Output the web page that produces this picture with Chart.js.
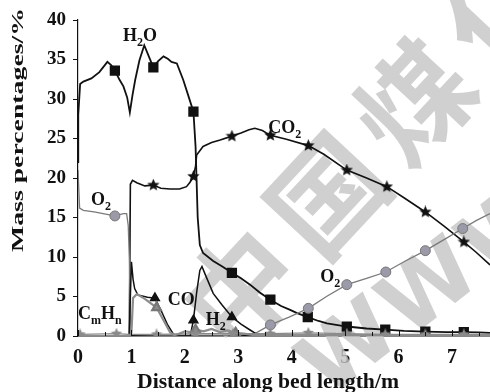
<!DOCTYPE html>
<html><head><meta charset="utf-8">
<script src="https://cdn.jsdelivr.net/npm/chart.js@4/dist/chart.umd.min.js"></script>
<style>html,body{margin:0;padding:0;background:#fff}#wrap{width:490px;height:392px;position:relative}</style>
</head><body><div id="wrap"><canvas id="c" width="490" height="392"></canvas></div>
<script>
// ---- data ----
const h2oX = [0,0.005,0.04,0.1,0.25,0.4,0.55,0.62,0.69,0.78,0.85,0.92,0.97,1.02,1.07,1.15,1.24,1.3,1.41,1.5,1.6,1.68,1.75,1.85,1.97,2.07,2.16,2.2,2.24,2.28,2.34,2.53,2.7,2.88,3.05,3.22,3.4,3.6,3.8,3.97,4.1,4.3,4.5,4.66,5.03,5.4,5.75,6.1,6.5,6.9,7.22,7.5,7.71];
const h2oY = [22,28,31.9,32.2,32.6,33.4,34.7,34.3,33.6,32.4,31.6,30.2,28.3,30.5,32.4,34.9,36.8,35.8,34.0,34.8,35.4,35.1,34.7,34.5,32.4,30.3,28.4,24,15,11.5,10.5,9.5,8.8,8.0,7.3,6.5,5.5,4.6,3.8,3.3,2.9,2.4,1.9,1.6,1.2,0.95,0.8,0.65,0.55,0.5,0.5,0.45,0.4];
const h2oMarks = [0.69,1.41,2.16,2.88,3.6,4.3,5.03,5.75,6.5,7.22];

const co2X = [0,0.96,0.98,1.02,1.1,1.25,1.41,1.55,1.72,1.9,2.03,2.1,2.16,2.2,2.22,2.34,2.5,2.66,2.88,3.05,3.2,3.31,3.45,3.6,3.9,4.31,4.6,5.03,5.4,5.78,6.1,6.5,6.85,7.22,7.45,7.71];
const co2Y = [0,0,19.2,19.7,19.4,19.0,19.1,18.7,18.6,18.6,18.9,19.5,20.2,21.5,22.9,24.0,24.5,24.8,25.3,25.7,26.1,26.3,26.0,25.4,24.9,24.1,23.0,21.0,20.0,18.9,17.5,15.7,13.9,11.9,10.6,9.0];
const co2Marks = [1.41,2.16,2.88,3.6,4.31,5.03,5.78,6.5,7.22];

const o2X = [0,0.03,0.1,0.3,0.47,0.69,0.85,0.91,0.94,0.96,0.98,1.0,1.5,2.2,2.9,3.31,3.6,3.95,4.31,4.65,5.03,5.4,5.76,6.1,6.5,6.85,7.2,7.45,7.71];
const o2Y = [21,16.2,15.9,15.7,15.5,15.2,15.5,15.5,14.0,10,2,0.2,0.1,0.1,0.1,0.3,1.4,2.4,3.5,5.0,6.5,7.3,8.1,9.4,10.8,12.2,13.6,14.6,15.5];
const o2Marks = [0.69,3.6,4.31,5.03,5.76,6.5,7.2];

const coX = [0,0.96,0.98,1.0,1.03,1.06,1.12,1.3,1.44,1.57,1.67,1.78,1.84,2.1,2.16,2.22,2.28,2.32,2.38,2.53,2.7,2.88,3.05,3.22,3.35,3.45,7.71];
const coY = [0,0,5,9.4,7.2,6.0,5.2,4.9,4.8,3.0,1.5,0.3,0,0,2.0,5.5,8.3,8.8,7.8,5.4,3.9,2.4,1.5,0.76,0.2,0,0];
const coMarks = [1.44,2.16,2.88];

const h2X = [0,0.98,1.0,1.03,1.1,1.25,1.47,1.6,1.72,1.8,1.9,2.0,2.1,2.2,2.35,2.5,2.65,2.8,2.95,3.1,3.3,7.71];
const h2Y = [0,0,0.5,4.8,5.3,4.7,3.6,2.0,0.5,0.1,0.3,0.6,0.5,0.8,0.6,0.9,0.5,0.7,0.4,0.3,0.1,0.1];
const h2Marks = [1.47,2.2,2.95];

const cmhnX = [0,0.04,0.72,0.95,1.47,2.2,2.9,3.6,4.31,5.03,5.75,6.5,7.22,7.71];
const cmhnY = [0.2,0.2,0.3,0.2,0.2,0.3,0.3,0.3,0.4,0.3,0.2,0.2,0.2,0.2];
const cmhnMarks = [0.04,0.72,1.47,2.2,2.9,3.6,4.31,5.03,5.75,6.5,7.22];

const xTitle = 'Distance along bed length/m';
const yTitle = 'Mass percentages/%';
// curve labels: text parts [text, isSubscript] and anchor in data units
const curveLabels = [
  {parts:[['H',0],['2',1],['O',0]], x:1.16, y:38.1, align:'center'},
  {parts:[['CO',0],['2',1]], x:3.87, y:26.4, align:'center'},
  {parts:[['O',0],['2',1]], x:0.43, y:17.3, align:'center'},
  {parts:[['O',0],['2',1]], x:4.72, y:7.6, align:'center'},
  {parts:[['C',0],['m',1],['H',0],['n',1]], x:0.0, y:2.9, align:'left'},
  {parts:[['CO',0]], x:1.93, y:4.7, align:'center'},
  {parts:[['H',0],['2',1]], x:2.58, y:2.15, align:'center'}
];
const watermark = ['中','国','煤','化','工'];
const watermarkW = ['W','W','W'];

// ---- helpers ----
const mk = (xs, ys) => xs.map((x, i) => ({x, y: ys[i]}));
function starImg(color, size) {
  const c = document.createElement('canvas'); c.width = c.height = size;
  const g = c.getContext('2d'); g.fillStyle = color; g.beginPath();
  const R = size / 2, r = R * 0.45;
  for (let i = 0; i < 10; i++) {
    const a = -Math.PI / 2 + i * Math.PI / 5, rr = i % 2 ? r : R;
    g.lineTo(R + rr * Math.cos(a), R + rr * Math.sin(a));
  }
  g.closePath(); g.fill(); return c;
}
const markR = (list, r) => ctx => (ctx.raw && list.includes(ctx.raw.x)) ? r : 0;
const SERIF = '"Liberation Serif", "Times New Roman", serif';

const decor = {
  id: 'decor',
  beforeDatasetsDraw(chart) {
    const ctx = chart.ctx;
    ctx.save();
    ctx.fillStyle = 'rgba(196,196,196,0.8)';
    ctx.textAlign = 'center'; ctx.textBaseline = 'middle';
    ctx.font = '700 112px "Noto Sans CJK SC"';
    watermark.forEach((ch, i) => {
      ctx.save(); ctx.translate(240 + 87 * i, 288 - 93 * i); ctx.rotate(-47 * Math.PI / 180);
      ctx.fillText(ch, 0, 0); ctx.restore();
    });
    ctx.font = '700 88px "DejaVu Sans"';
    watermarkW.forEach((ch, i) => {
      ctx.save(); ctx.translate(352 + 80 * i, 352 - 60 * i); ctx.rotate(-38 * Math.PI / 180);
      ctx.fillText(ch, 0, 0); ctx.restore();
    });
    ctx.restore();
  },
  afterDraw(chart) {
    const ctx = chart.ctx, xs = chart.scales.x, ys = chart.scales.y, a = chart.chartArea;
    ctx.save();
    // x ticks pointing inward (up)
    ctx.strokeStyle = '#111'; ctx.lineWidth = 1;
    xs.ticks.forEach(t => {
      const px = Math.round(xs.getPixelForValue(t.value)) + 0.5;
      const len = Number.isInteger(t.value) ? 6 : 4;
      ctx.beginPath(); ctx.moveTo(px, a.bottom); ctx.lineTo(px, a.bottom - len); ctx.stroke();
    });
    // axis titles
    ctx.fillStyle = '#111';
    ctx.font = 'bold 20px ' + SERIF;
    ctx.textAlign = 'center'; ctx.textBaseline = 'alphabetic';
    let w = ctx.measureText(xTitle).width;
    ctx.save(); ctx.translate(268, 388); ctx.scale(262 / w, 1); ctx.fillText(xTitle, 0, 0); ctx.restore();
    ctx.font = 'bold 16px ' + SERIF;
    w = ctx.measureText(yTitle).width;
    ctx.save(); ctx.translate(23, 130); ctx.rotate(-Math.PI / 2); ctx.scale(244 / w, 1);
    ctx.fillText(yTitle, 0, 0); ctx.restore();
    // curve labels
    curveLabels.forEach(lb => {
      const main = 'bold 18px ' + SERIF, sub = 'bold 12px ' + SERIF;
      let tw = 0;
      lb.parts.forEach(p => { ctx.font = p[1] ? sub : main; tw += ctx.measureText(p[0]).width; });
      let px = xs.getPixelForValue(lb.x);
      const py = ys.getPixelForValue(lb.y) + 6;
      if (lb.align === 'center') px -= tw / 2;
      ctx.textAlign = 'left';
      lb.parts.forEach(p => {
        ctx.font = p[1] ? sub : main;
        ctx.fillText(p[0], px, py + (p[1] ? 5 : 0));
        px += ctx.measureText(p[0]).width;
      });
    });
    ctx.restore();
  }
};

const starBlack = starImg('#111', 13);
const starGray = starImg('#8a8a8a', 12);

new Chart(document.getElementById('c'), {
  type: 'line',
  data: {
    datasets: [
      {label:'CmHn', data: mk(cmhnX, cmhnY), borderColor:'#8a8a8a', borderWidth:1.2,
        pointStyle: starGray, pointRadius: markR(cmhnMarks, 5)},
      {label:'H2', data: mk(h2X, h2Y), borderColor:'#8c8c8c', borderWidth:2.2,
        pointStyle:'triangle', pointBackgroundColor:'#8c8c8c', pointBorderColor:'#777', pointRadius: markR(h2Marks, 5)},
      {label:'CO', data: mk(coX, coY), borderColor:'#111', borderWidth:1.5,
        pointStyle:'triangle', pointBackgroundColor:'#111', pointBorderColor:'#111', pointRadius: markR(coMarks, 5)},
      {label:'O2', data: mk(o2X, o2Y), borderColor:'#7a7a7a', borderWidth:1.3,
        pointStyle:'circle', pointBackgroundColor:'#9a9aa8', pointBorderColor:'#777', pointBorderWidth:1, pointRadius: markR(o2Marks, 5)},
      {label:'CO2', data: mk(co2X, co2Y), borderColor:'#111', borderWidth:1.6,
        pointStyle: starBlack, pointRadius: markR(co2Marks, 5)},
      {label:'H2O', data: mk(h2oX, h2oY), borderColor:'#111', borderWidth:1.8,
        pointStyle:'rect', pointBackgroundColor:'#111', pointBorderColor:'#111', pointRadius: markR(h2oMarks, 6)}
    ]
  },
  options: {
    animation: false, responsive: false, devicePixelRatio: 1,
    parsing: false, normalized: true,
    layout: {padding: {top: 20, left: 0, right: 0, bottom: 0}},
    plugins: {legend: {display: false}, tooltip: {enabled: false}},
    elements: {line: {tension: 0, fill: false}, point: {hoverRadius: 0}},
    scales: {
      x: {
        type: 'linear', min: 0, max: 7.71,
        border: {display: true, color: '#111', width: 1.5},
        grid: {display: false, drawTicks: false},
        ticks: {stepSize: 0.5, includeBounds: false, autoSkip: false, maxRotation: 0, padding: 10,
          color: '#111', font: {family: SERIF, size: 20, weight: 'bold'},
          callback: v => Number.isInteger(v) ? String(v) : ''},
        afterFit: s => { s.height = 56; }
      },
      y: {
        type: 'linear', min: 0, max: 40,
        border: {display: true, color: '#111', width: 1.2},
        grid: {display: true, drawOnChartArea: false, drawTicks: true, tickLength: 5, tickColor: '#111', tickWidth: 1},
        ticks: {stepSize: 2.5, padding: 7, color: '#111', font: {family: SERIF, size: 19, weight: 'bold'},
          callback: v => (v % 5 === 0) ? String(v) : ''},
        afterFit: s => { s.width = 78; }
      }
    }
  },
  plugins: [decor]
});
</script>
</body></html>
